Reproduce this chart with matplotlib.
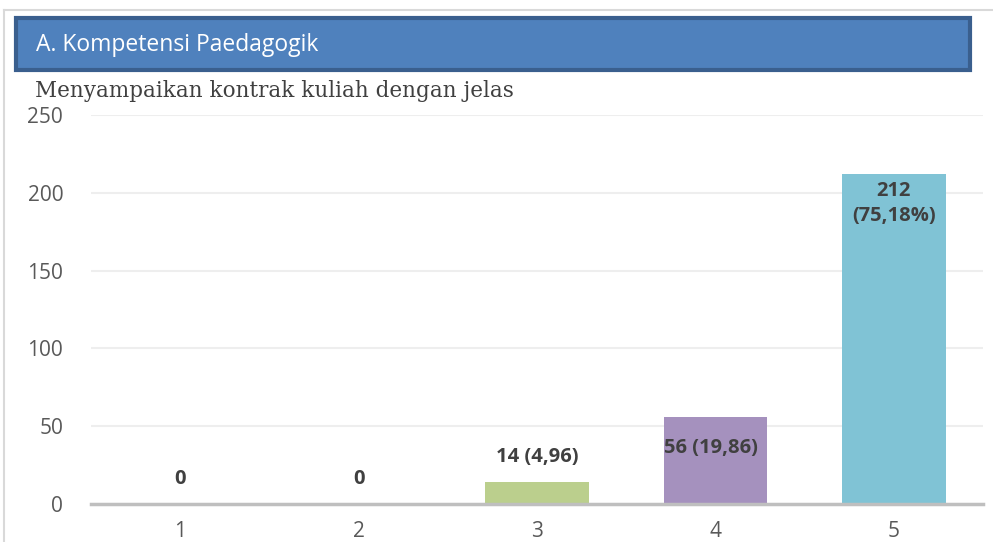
import matplotlib.pyplot as plt
from matplotlib.patches import Rectangle
from matplotlib.lines import Line2D

categories = ["1", "2", "3", "4", "5"]
counts = [0, 0, 14, 56, 212]
labels = ["0", "0", "14 (4,96)", "56 (19,86)", "212\n(75,18%)"]
colors = ["#4F81BD", "#C0504D", "#BBCF8D", "#A591BE", "#80C3D5"]

W, H = 993, 542
fig = plt.figure(figsize=(W / 100, H / 100), dpi=100)

# outer frame
fig.add_artist(Line2D([4 / W, 1], [1 - 10 / H, 1 - 10 / H], color="#D9D9D9", lw=1.5))
fig.add_artist(Line2D([4 / W, 4 / W], [0, 1 - 10 / H], color="#D9D9D9", lw=1.5))

# banner
fig.add_artist(Rectangle((16 / W, 1 - 70 / H), 954 / W, 52 / H, facecolor="#4F81BD",
                         edgecolor="#3A5F8E", lw=3, transform=fig.transFigure))
fig.text(36 / W, 1 - 45 / H, "A. Kompetensi Paedagogik", color="white", fontsize=16.5,
         family="Open Sans", va="center", ha="left")

fig.text(35 / W, 1 - 91 / H, "Menyampaikan kontrak kuliah dengan jelas", color="#404040",
         fontsize=15.5, family="DejaVu Serif", va="center", ha="left")

ax = fig.add_axes([91 / W, 1 - 504 / H, 892 / W, 389 / H])
x = range(len(categories))
ax.bar(x, counts, width=0.58, color=colors)
ax.set_xlim(-0.5, 4.5)
ax.set_ylim(0, 250)
ax.set_yticks([0, 50, 100, 150, 200, 250])
ax.set_xticks(list(x))
ax.set_xticklabels(categories)
ax.yaxis.grid(True, color="#EEEEEE", lw=1.5)
ax.set_axisbelow(True)
for s in ["top", "right", "left"]:
    ax.spines[s].set_visible(False)
ax.spines["bottom"].set_color("#BFBFBF")
ax.spines["bottom"].set_linewidth(2.5)
ax.tick_params(length=0, labelsize=15, labelcolor="#595959", pad=12)
ax.tick_params(axis="y", pad=20)
for t in ax.get_xticklabels() + ax.get_yticklabels():
    t.set_family("Open Sans")

# data labels
offsets = [16, 16, 16, -20, -19]
dx = [0, 0, 0, -0.025, 0]
for i, (v, lab) in enumerate(zip(counts, labels)):
    ax.text(i + dx[i], v + offsets[i], lab, ha="center", va="center", fontsize=14.5,
            fontweight="bold", color="#404040", family="Open Sans", linespacing=1.3)

fig.savefig("out.png", dpi=100)
